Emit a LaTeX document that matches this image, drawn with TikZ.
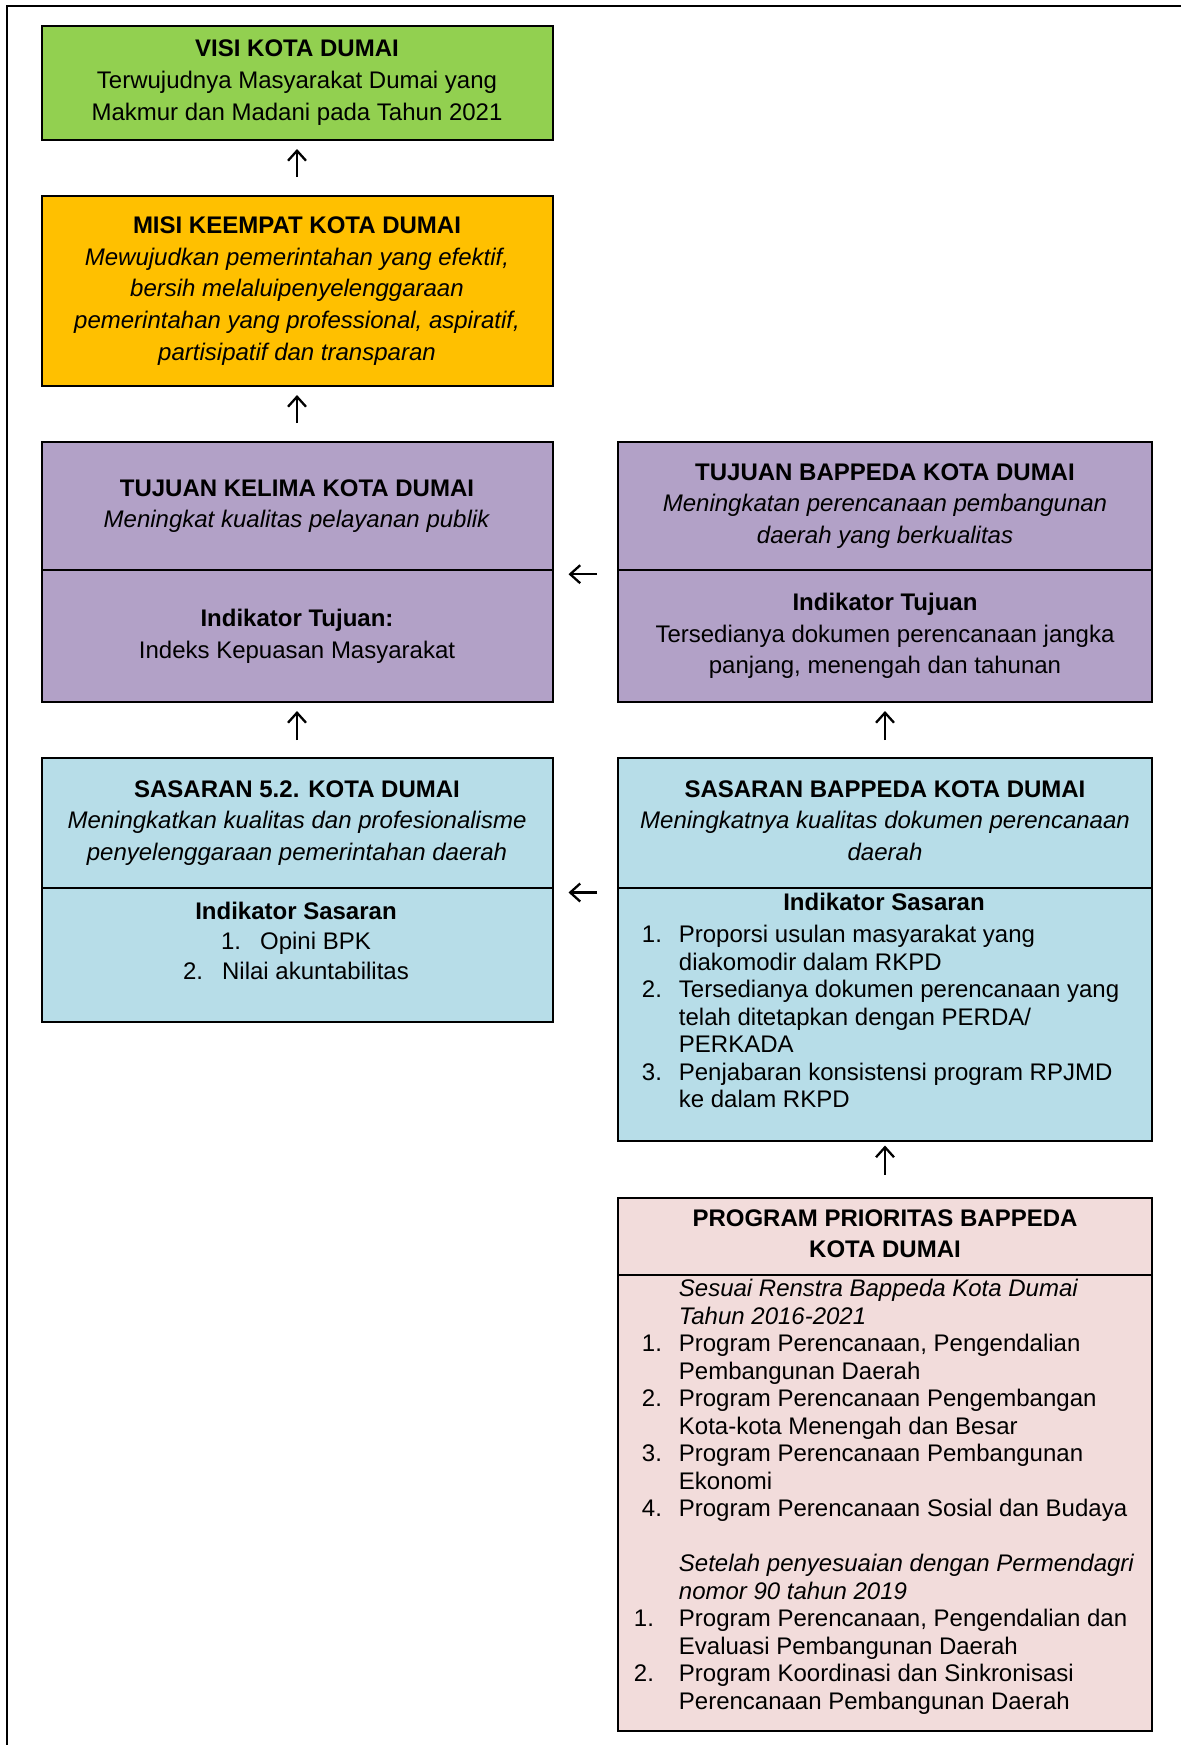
\documentclass[tikz,border=0pt]{standalone}
\usepackage{fontspec}
\setmainfont{Liberation Sans}
\usetikzlibrary{arrows.meta}
\definecolor{cgreen}{HTML}{92D050}
\definecolor{corange}{HTML}{FFC000}
\definecolor{cpurple}{HTML}{B2A1C7}
\definecolor{cblue}{HTML}{B7DDE8}
\definecolor{cpink}{HTML}{F2DCDB}
\tikzset{
  box/.style={draw, line width=1pt, inner sep=0pt, anchor=north west, align=center,
    font=\fontsize{12pt}{15.86pt}\selectfont},
  lbox/.style={box, minimum width=255.5pt},
  rbox/.style={box, minimum width=267pt},
  txt/.style={inner sep=0pt, font=\fontsize{12pt}{13.75pt}\selectfont},
  uparr/.style={line width=1.15pt, -{Straight Barb[length=5pt,width=9pt,line width=1.15pt]}},
  frame/.style={line width=1.15pt}
}
\newcommand{\num}[1]{\makebox[18.5pt][l]{#1}}
\newcommand{\ind}{\hspace*{18.5pt}}
\begin{document}
\begin{tikzpicture}[x=0.5pt,y=-0.5pt]
\useasboundingbox (0,0) rectangle (1181,1745);
% outer frame
\coordinate (fr1) at (1181,5.7);
\coordinate (fr2) at (7.3,5.7);
\coordinate (fr3) at (7.3,1745);
\draw[frame] (fr1) -- (fr2) -- (fr3);

% left column
\node[lbox, fill=cgreen, minimum height=57.25pt] (visi) at (40.5,24.5)
  {\textbf{VISI KOTA DUMAI}\\Terwujudnya Masyarakat Dumai yang\\Makmur dan Madani pada Tahun 2021};
\node[lbox, fill=corange, minimum height=95pt] (misi) at (40.5,195)
  {\textbf{MISI KEEMPAT KOTA DUMAI}\\\textit{Mewujudkan pemerintahan yang efektif,}\\\textit{bersih melaluipenyelenggaraan}\\\textit{pemerintahan yang professional, aspiratif,}\\\textit{partisipatif dan transparan}};
\node[lbox, fill=cpurple, minimum height=64pt] (tkTop) at (40.5,441)
  {\textbf{TUJUAN KELIMA KOTA DUMAI}\\\textit{Meningkat kualitas pelayanan publik}};
\node[lbox, fill=cpurple, minimum height=66pt] (tkBot) at (40.5,569)
  {\textbf{Indikator Tujuan:}\\Indeks Kepuasan Masyarakat};
\node[lbox, fill=cblue, minimum height=65pt] (skTop) at (40.5,757)
  {\textbf{SASARAN 5.2. KOTA DUMAI}\\\textit{Meningkatkan kualitas dan profesionalisme}\\\textit{penyelenggaraan pemerintahan daerah}};
\node[lbox, fill=cblue, minimum height=67pt] (skBot) at (40.5,887) {};
\node[txt, anchor=north, align=center, font=\fontsize{12pt}{15pt}\selectfont] (skBotTxt) at (296,901.3)
  {\textbf{Indikator Sasaran}\\\makebox[19.5pt][l]{1.}Opini BPK\\\makebox[19.5pt][l]{2.}Nilai akuntabilitas};

% right column
\node[rbox, fill=cpurple, minimum height=64pt] (tbTop) at (617,441)
  {\textbf{TUJUAN BAPPEDA KOTA DUMAI}\\\textit{Meningkatan perencanaan pembangunan}\\\textit{daerah yang berkualitas}};
\node[rbox, fill=cpurple, minimum height=66pt] (tbBot) at (617,569)
  {\textbf{Indikator Tujuan}\\Tersedianya dokumen perencanaan jangka\\panjang, menengah dan tahunan};
\node[rbox, fill=cblue, minimum height=65pt] (sbTop) at (617,757)
  {\textbf{SASARAN BAPPEDA KOTA DUMAI}\\\textit{Meningkatnya kualitas dokumen perencanaan}\\\textit{daerah}\vphantom{gy}};
\node[rbox, fill=cblue, minimum height=126.25pt] (sbBot) at (617,887) {};
\node[txt, anchor=north] (sbHead) at (884,892.4) {\textbf{Indikator Sasaran}};
\node[txt, anchor=north west, align=left] (sbList) at (641.5,924.7)
  {\num{1.}Proporsi usulan masyarakat yang\\
   \ind diakomodir dalam RKPD\\
   \num{2.}Tersedianya dokumen perencanaan yang\\
   \ind telah ditetapkan dengan PERDA/\\
   \ind PERKADA\\
   \num{3.}Penjabaran konsistensi program RPJMD\\
   \ind ke dalam RKPD};
\node[rbox, fill=cpink, minimum height=38.5pt] (prTop) at (617,1196.5)
  {\textbf{PROGRAM PRIORITAS BAPPEDA}\\\textbf{KOTA DUMAI}\vphantom{gy}};
\node[rbox, fill=cpink, minimum height=228.25pt] (prBot) at (617,1273.5) {};
\node[txt, anchor=north west, align=left] (prList) at (641.5,1278.7)
  {\ind\textit{Sesuai Renstra Bappeda Kota Dumai}\\
   \ind\textit{Tahun 2016-2021}\\
   \num{1.}Program Perencanaan, Pengendalian\\
   \ind Pembangunan Daerah\\
   \num{2.}Program Perencanaan Pengembangan\\
   \ind Kota-kota Menengah dan Besar\\
   \num{3.}Program Perencanaan Pembangunan\\
   \ind Ekonomi\\
   \num{4.}Program Perencanaan Sosial dan Budaya\\
   \mbox{}\\
   \ind\textit{Setelah penyesuaian dengan Permendagri}\\
   \ind\textit{nomor 90 tahun 2019}\\
   \hspace*{-4pt}\makebox[22.5pt][l]{1.}Program Perencanaan, Pengendalian dan\\
   \ind Evaluasi Pembangunan Daerah\\
   \hspace*{-4pt}\makebox[22.5pt][l]{2.}Program Koordinasi dan Sinkronisasi\\
   \ind Perencanaan Pembangunan Daerah};

% connectors
\draw[uparr, shorten <=9pt, shorten >=4pt] (misi.north) -- (visi.south);
\draw[uparr, shorten <=9pt, shorten >=4pt] (tkTop.north) -- (misi.south);
\draw[uparr, shorten <=8.5pt, shorten >=4pt] (skTop.north) -- (tkBot.south);
\draw[uparr, shorten <=8.5pt, shorten >=4pt] (sbTop.north) -- (tbBot.south);
\draw[uparr, shorten <=11pt, shorten >=2pt] (prTop.north) -- (sbBot.south);
\draw[uparr, shorten <=10pt, shorten >=7.5pt] ([yshift=-1.6pt]tbTop.south west) -- ([yshift=-1.6pt]tkTop.south east);
\draw[uparr, shorten <=10pt, shorten >=7.5pt] ([yshift=-1.75pt]sbTop.south west) -- ([yshift=-1.75pt]skTop.south east);
\end{tikzpicture}
\end{document}
